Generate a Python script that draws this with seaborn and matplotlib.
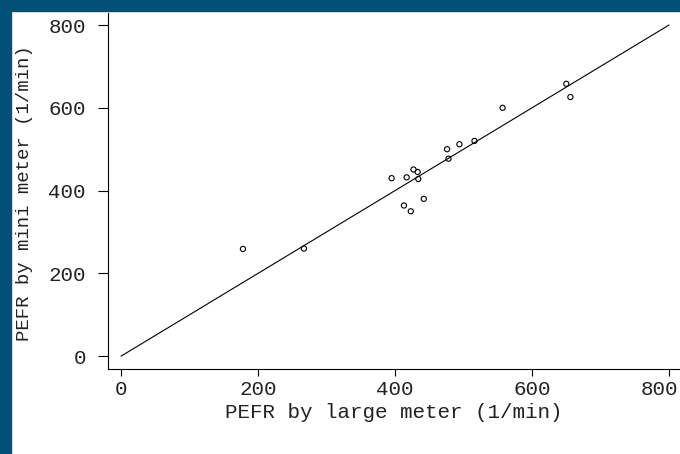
import pandas as pd
import matplotlib.pyplot as plt
import matplotlib.patches as mpatches
import matplotlib.transforms as mtransforms
import seaborn as sns

# PEFR readings (l/min), large Wright meter vs mini Wright meter
large_meter = [494, 395, 516, 434, 476, 557, 413, 442, 650, 433, 417, 656, 267, 478, 178, 423, 427]
mini_meter = [512, 430, 520, 428, 500, 600, 364, 380, 658, 445, 432, 626, 260, 477, 259, 350, 451]
line_of_equality = [0, 800]
ticks = [0, 200, 400, 600, 800]

df = pd.DataFrame({'large': large_meter, 'mini': mini_meter})
eq = pd.DataFrame({'x': line_of_equality, 'y': line_of_equality})

sns.set_style('ticks')
plt.rcParams['font.family'] = ['Liberation Mono', 'DejaVu Sans Mono']

fig = plt.figure(figsize=(6.8, 4.54), dpi=100)
fig.patch.set_facecolor('white')

# dark blue frame on left and top
border = '#005077'
fig.patches.append(mpatches.Rectangle((0, 0), 11 / 680, 1, transform=fig.transFigure,
                                      color=border, zorder=0))
fig.patches.append(mpatches.Rectangle((0, 1 - 11 / 454), 1, 11 / 454, transform=fig.transFigure,
                                      color=border, zorder=0))

ax = fig.add_axes([108 / 680, 85 / 454, 1 - 108 / 680, (369 - 13) / 454])
ax.set_facecolor('white')

sns.lineplot(data=eq, x='x', y='y', color='black', linewidth=0.8, ax=ax)
sns.scatterplot(data=df, x='large', y='mini', marker='o', s=14,
                facecolors='none', edgecolor='black', linewidth=0.8, ax=ax)

ax.set_xlim(-19, 816)
ax.set_ylim(-31, 829)
ax.set_xticks(ticks)
ax.set_yticks(ticks)
txt = '#222222'
ax.tick_params(axis='x', length=5, width=0.8, color='black',
               labelsize=15, labelcolor=txt, pad=3)
ax.tick_params(axis='y', length=7, width=0.8, color='black',
               labelsize=15, labelcolor=txt, pad=9)
ax.set_xlabel('PEFR by large meter (1/min)', fontsize=15, color=txt)
ax.set_ylabel('PEFR by mini meter (1/min)', fontsize=13.7, color=txt)
ax.xaxis.set_label_coords(0.5, -0.095)
ax.yaxis.set_label_coords(-0.131, 0.494)

# keep the last x tick label inside the figure
last = ax.get_xticklabels()[-1]
last.set_transform(last.get_transform() +
                   mtransforms.ScaledTranslation(-10 / 100, 0, fig.dpi_scale_trans))

sns.despine(ax=ax)
for s in ['left', 'bottom']:
    ax.spines[s].set_linewidth(0.8)
    ax.spines[s].set_color('black')

fig.savefig('out.png', dpi=100, facecolor=fig.get_facecolor())
